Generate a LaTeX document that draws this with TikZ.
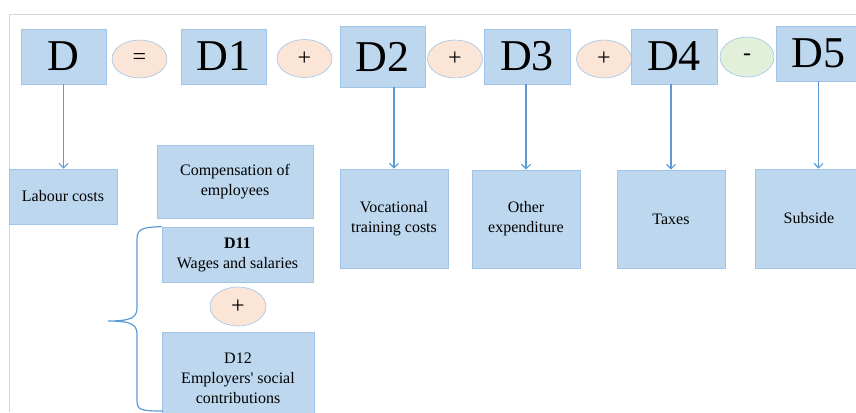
\documentclass[tikz,border=0pt]{standalone}
\usepackage{fontspec}
\setmainfont{Liberation Serif}
\usetikzlibrary{shapes.geometric,arrows.meta}
\definecolor{boxfill}{RGB}{189,215,238}
\definecolor{boxline}{RGB}{160,196,230}
\definecolor{opfill}{RGB}{251,229,214}
\definecolor{minusfill}{RGB}{226,240,217}
\definecolor{arrowblue}{RGB}{91,155,213}
\definecolor{framegray}{RGB}{214,214,214}
\tikzset{
    box/.style={draw=boxline, line width=0.6pt, fill=boxfill, inner sep=0pt, align=center, font=\fontsize{16}{20}\selectfont},
    bigbox/.style={box, font=\fontsize{44}{44}\selectfont},
    oper/.style={ellipse, draw=boxline, line width=0.6pt, fill=opfill, inner sep=0pt, minimum width=55pt, minimum height=38pt, font=\fontsize{24}{24}\selectfont},
    link/.style={draw=arrowblue, line width=1.2pt, -{Straight Barb[length=4.5pt,width=9pt]}},
}
\begin{document}
\begin{tikzpicture}[x=1pt,y=-1pt]
                \useasboundingbox ( 0, 0 ) rectangle ( 856, 412 );
% рамка
                \draw [framegray, line width=0.8pt] ( 9, 412 ) -- ( 9, 14 ) -- ( 856, 14 );
% формула
                \node [bigbox, minimum width=85pt, minimum height=55pt] (D) at ( 63.5, 56.5 ) {D};
                \node [oper] (eq) at ( 139.5, 59 ) {=};
                \node [bigbox, minimum width=85pt, minimum height=55pt] (D1) at ( 223.5, 56.5 ) {D1};
                \node [oper] (plusA) at ( 304.5, 58.5 ) {+};
                \node [bigbox, minimum width=85pt, minimum height=61pt] (D2) at ( 382.5, 56.5 ) {D2};
                \node [oper] (plusB) at ( 455, 59 ) {+};
                \node [bigbox, minimum width=86pt, minimum height=55pt] (D3) at ( 527, 56.5 ) {D3};
                \node [oper] (plusC) at ( 604, 59 ) {+};
                \node [bigbox, minimum width=86pt, minimum height=55pt] (D4) at ( 674, 56.5 ) {D4};
                \node [oper, fill=minusfill, minimum width=54pt, minimum height=40pt] (minus) at ( 747, 57 ) {-};
                \node [bigbox, minimum width=85pt, minimum height=55pt] (D5) at ( 818.5, 53.5 ) {D5};

% расшифровка
                \node [box, minimum width=108pt, minimum height=55pt] (labour) at ( 63, 196.5 ) {Labour costs};
                \node [box, minimum width=156pt, minimum height=73pt] (comp) at ( 235, 181.5 ) {Compensation of\\employees};
                \node [box, minimum width=151pt, minimum height=55pt] (wages) at ( 237.5, 254.5 ) {\textbf{D11}\\Wages and salaries};
                \node [oper, minimum width=56pt, minimum height=39pt] (plusD) at ( 238, 306.5 ) {+};
                \node [box, minimum width=152pt, minimum height=92pt] (social) at ( 238, 378 ) {D12\\Employers\textquotesingle{} social\\contributions};
                \node [box, minimum width=108pt, minimum height=99pt] (voc) at ( 394, 218.5 ) {Vocational\\training costs};
                \node [box, minimum width=108pt, minimum height=98pt] (other) at ( 526, 219 ) {Other\\expenditure};
                \node [box, minimum width=108pt, minimum height=98pt] (taxes) at ( 671, 219 ) {Taxes};
                \node [box, minimum width=108pt, minimum height=99pt] (subside) at ( 809, 218.5 ) {Subside};

% стрелки
                \draw [link] (D.south) -- (D.south |- labour.north);
                \draw [link] (voc.north |- D2.south) -- (voc.north);
                \draw [link] (other.north |- D3.south) -- (other.north);
                \draw [link] (taxes.north |- D4.south) -- (taxes.north);
                \draw [link] (D5.south) -- (D5.south |- subside.north);
% скобка
                \draw [arrowblue, line width=1.2pt] (wages.north west) .. controls ( 140, 227 ) and ( 137, 230 ) .. ( 137, 240 ) -- ( 137, 308 )
                      .. controls ( 137, 318 ) and ( 130, 321 ) .. ( 108, 321 )
                      .. controls ( 130, 321 ) and ( 137, 324 ) .. ( 137, 334 ) -- ( 137, 400 )
                      .. controls ( 137, 410 ) and ( 140, 411 ) .. ( 163, 411 );
            \end{tikzpicture}
\end{document}
